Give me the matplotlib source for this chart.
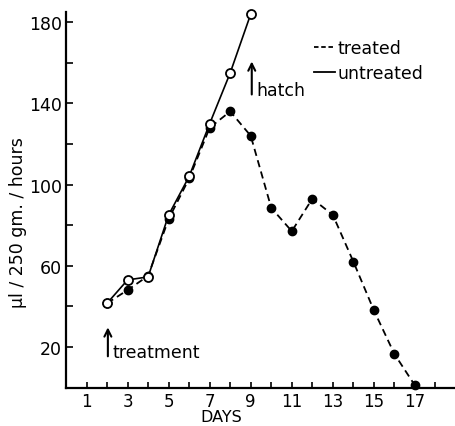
import matplotlib.pyplot as plt
from matplotlib.lines import Line2D

# oxygen consumption, ul / 250 gm / hours
days_untreated = [2, 3, 4, 5, 6, 7, 8, 9]
untreated = [41.5, 53, 54.5, 85, 104, 130, 155, 184]

days_treated = [2, 3, 4, 5, 6, 7, 8, 9, 10, 11, 12, 13, 14, 15, 16, 17]
treated = [41.5, 48, 55, 83, 103, 128, 136, 124, 88.5, 77, 93, 85, 62, 38, 16.5, 1]

x_labels = [1, 3, 5, 7, 9, 11, 13, 15, 17]
y_labels = [20, 60, 100, 140, 180]

plt.rcParams['font.family'] = 'DejaVu Sans'
plt.rcParams['font.size'] = 12.5

fig = plt.figure(figsize=(4.56, 4.27), dpi=100)
ax = fig.add_axes([66 / 456, 1 - 388.5 / 427, 1 - 66 / 456, (388.5 - 13) / 427])

ax.plot(days_treated, treated, '--', color='black', lw=1.3, dashes=(4, 2.5),
        marker='o', markersize=6, markerfacecolor='black', clip_on=False, zorder=3)
ax.plot(days_untreated, untreated, '-', color='black', lw=1.2,
        marker='o', markersize=6.5, markerfacecolor='white', markeredgewidth=1.3,
        clip_on=False, zorder=4)

ax.set_xlim(0, 19)
ax.set_ylim(0, 185)

for s in ['top', 'right']:
    ax.spines[s].set_visible(False)
for s in ['left', 'bottom']:
    ax.spines[s].set_linewidth(1.6)

ax.set_xticks(range(1, 19))
ax.set_xticklabels([str(d) if d in x_labels else '' for d in range(1, 19)])
ax.set_yticks(range(20, 181, 20))
ax.set_yticklabels([str(v) if v in y_labels else '' for v in range(20, 181, 20)])
ax.tick_params(axis='x', direction='in', length=4, width=1.2, pad=3.5, labelsize=12)
ax.tick_params(axis='y', direction='in', length=5, width=1.2, pad=3)

ax.text(7.55, -0.077, 'DAYS', transform=ax.get_xaxis_transform(),
        ha='center', va='center', fontsize=11.5)
fig.text(18 / 456, 1 - 223 / 427, 'µl / 250 gm. / hours', rotation=90,
         ha='center', va='center')

ax.annotate('', xy=(9.05, 162), xytext=(9.05, 143),
            arrowprops=dict(arrowstyle='->', lw=1.5, color='black'))
ax.text(9.28, 144, 'hatch', ha='left', va='baseline')

ax.annotate('', xy=(2.04, 31), xytext=(2.04, 14),
            arrowprops=dict(arrowstyle='->', lw=1.5, color='black'))
ax.text(2.28, 15, 'treatment', ha='left', va='baseline')

handles = [Line2D([], [], color='black', lw=1.3, ls='--', dashes=(2.5, 1.5)),
           Line2D([], [], color='black', lw=1.3)]
ax.legend(handles, ['treated', 'untreated'], loc='upper left',
          bbox_to_anchor=(305 / 456, 1 - 31 / 427), bbox_transform=fig.transFigure,
          frameon=False, borderpad=0, handlelength=1.25, handletextpad=0.15,
          labelspacing=0.45)

fig.savefig('out.png', dpi=100)
